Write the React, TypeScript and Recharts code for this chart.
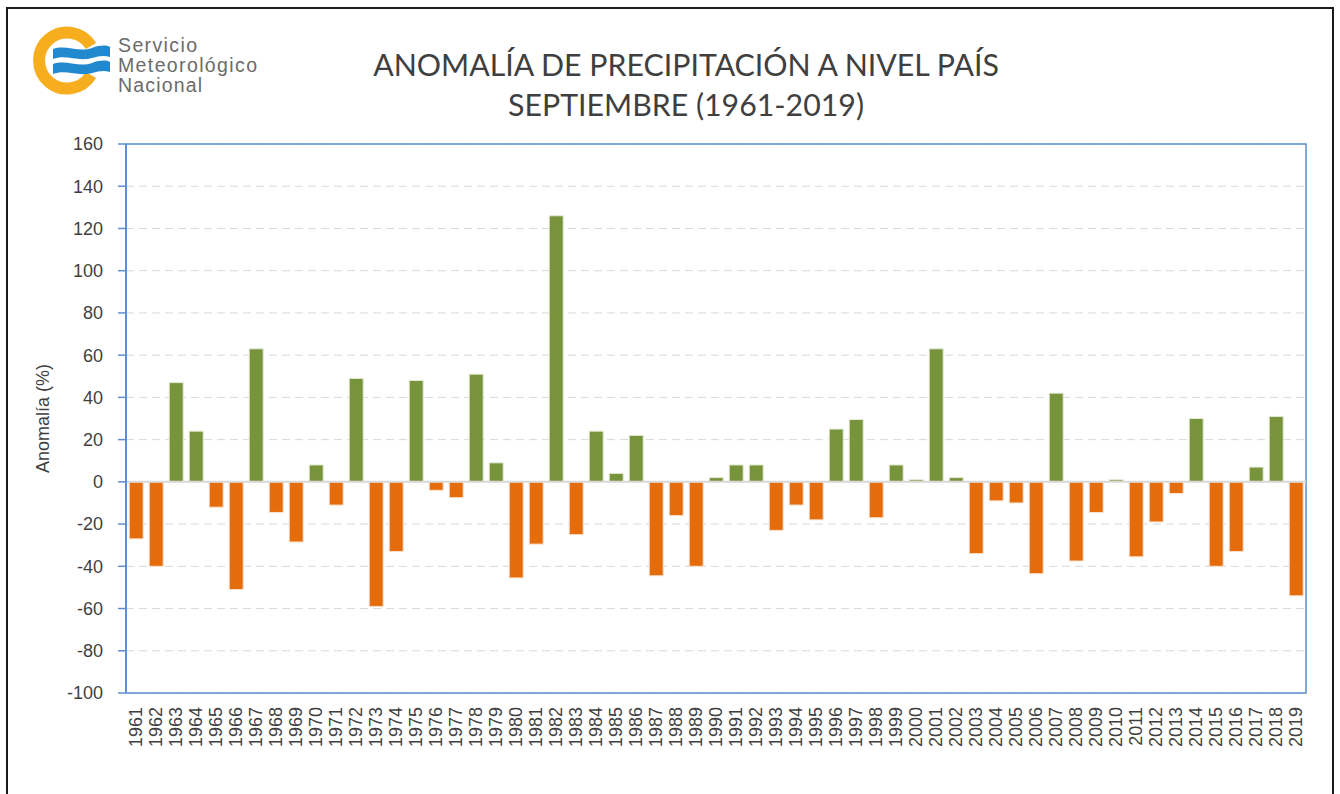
import React from 'react';
import { BarChart, Bar, Cell, XAxis, YAxis, CartesianGrid, ReferenceLine, ReferenceArea } from 'recharts';

// Anomalía de precipitación (%) — septiembre, 1961-2019
const years = [
  '1961', '1962', '1963', '1964', '1965', '1966', '1967', '1968', '1969', '1970',
  '1971', '1972', '1973', '1974', '1975', '1976', '1977', '1978', '1979', '1980',
  '1981', '1982', '1983', '1984', '1985', '1986', '1987', '1988', '1989', '1990',
  '1991', '1992', '1993', '1994', '1995', '1996', '1997', '1998', '1999', '2000',
  '2001', '2002', '2003', '2004', '2005', '2006', '2007', '2008', '2009', '2010',
  '2011', '2012', '2013', '2014', '2015', '2016', '2017', '2018', '2019',
];

const anomalies = [
  -27, -40, 47, 24, -12, -51, 63, -14.5, -28.5, 8,
  -11, 49, -59, -33, 48, -4, -7.5, 51, 9, -45.5,
  -29.5, 126, -25, 24, 4, 22, -44.5, -16, -40, 2,
  8, 8, -23, -11, -18, 25, 29.5, -17, 8, 1,
  63, 2, -34, -9, -10, -43.5, 42, -37.5, -14.5, 1,
  -35.5, -19, -5.5, 30, -40, -33, 7, 31, -54,
];

const yTicks = [-100, -80, -60, -40, -20, 0, 20, 40, 60, 80, 100, 120, 140, 160];

const data = years.map((year, i) => ({ year, value: anomalies[i] }));

const GREEN = '#77933c';
const ORANGE = '#e46c0a';
const AXIS_BLUE = '#5b8fd0';
const TEXT = '#3f3f3f';

const YearTick = (props: any) => {
  const { x, y, payload } = props;
  return (
    <g transform={`translate(${x},${y})`}>
      <text transform="rotate(-90)" textAnchor="end" dy="0.36em" fontSize={18} fill={TEXT} fontFamily="Liberation Sans, Arial, sans-serif">
        {payload.value}
      </text>
    </g>
  );
};

// logo del SMN (decorativo)
const Logo = () => (
  <svg width={280} height={110} style={{ position: 'absolute', left: 0, top: 0 }}>
    <path
      d="M 91 46 A 28 28 0 1 0 91 75"
      fill="none"
      stroke="#f7ae1e"
      strokeWidth={12}
    />
    <path d="M 53 49 C 66 44, 78 53, 92 48 C 100 45, 106 45, 110 47 L 110 57 C 104 55, 99 56, 92 58 C 78 62, 66 54, 53 59 Z" fill="#2289cf" />
    <path d="M 53 64 C 66 59, 78 68, 92 63 C 100 60, 106 60, 110 62 L 110 72 C 104 70, 99 71, 92 73 C 78 77, 66 69, 53 74 Z" fill="#2289cf" />
    <g fontFamily="Liberation Sans, Arial, sans-serif" fontSize={19.5} fill="#6b6b6b">
      <text x={118} y={52} textLength={79}>Servicio</text>
      <text x={118} y={72} textLength={139}>Meteorológico</text>
      <text x={118} y={92} textLength={84}>Nacional</text>
    </g>
  </svg>
);

const App: React.FC = () => {
  return (
    <div style={{ position: 'absolute', left: 0, top: 0, width: 1340, height: 794, background: '#fff', overflow: 'hidden' }}>
      <div style={{ position: 'absolute', left: 6, top: 7, width: 1324, height: 800, border: '2px solid #1a1a1a' }} />
      <Logo />
      <div style={{ position: 'absolute', left: 0, top: 44, width: 1372, textAlign: 'center', fontFamily: 'Lato, Carlito, Calibri, sans-serif', fontSize: 30.3, color: TEXT, lineHeight: '40px' }}>
        ANOMALÍA DE PRECIPITACIÓN A NIVEL PAÍS
        <br />
        SEPTIEMBRE (1961-2019)
      </div>
      <div style={{ position: 'absolute', left: 0, top: 0 }}>
        <BarChart width={1340} height={794} data={data} margin={{ top: 144, right: 34, left: 20, bottom: 0 }} barCategoryGap="16%">
          <CartesianGrid vertical={false} stroke="#d9d9d9" strokeDasharray="8 5" />
          <XAxis dataKey="year" interval={0} height={101} axisLine={false} tickLine={false} tickSize={0} tickMargin={14} tick={<YearTick />} />
          <YAxis
            width={106}
            domain={[-100, 160]}
            ticks={yTicks}
            interval={0}
            stroke={AXIS_BLUE}
            axisLine={{ stroke: AXIS_BLUE, strokeWidth: 2 }}
            tickLine={{ stroke: AXIS_BLUE, strokeWidth: 1.5 }}
            tickSize={8}
            tickMargin={15}
            tick={{ fontSize: 18, fill: TEXT, fontFamily: 'Liberation Sans, Arial, sans-serif' }}
            label={{
              content: (p: any) => {
                const vb = p.viewBox;
                const cx = vb.x + 23;
                const cy = vb.y + vb.height / 2;
                return (
                  <text x={cx} y={cy} transform={`rotate(-90, ${cx}, ${cy})`} textAnchor="middle" dominantBaseline="central" fontSize={18} fill={TEXT} fontFamily="Liberation Sans, Arial, sans-serif">
                    Anomalía (%)
                  </text>
                );
              },
            }}
          />
          <ReferenceLine y={0} stroke="#d9d9d9" strokeWidth={2} />
          <Bar dataKey="value" strokeWidth={1} isAnimationActive={false}>
            {data.map((d) => (
              <Cell key={d.year} fill={d.value >= 0 ? GREEN : ORANGE} stroke={d.value >= 0 ? '#e4ecd4' : '#fbe3cf'} />
            ))}
          </Bar>
          <ReferenceArea y1={-100} y2={160} fill="none" stroke={AXIS_BLUE} strokeWidth={1.5} />
        </BarChart>
      </div>
    </div>
  );
};

export default App;
